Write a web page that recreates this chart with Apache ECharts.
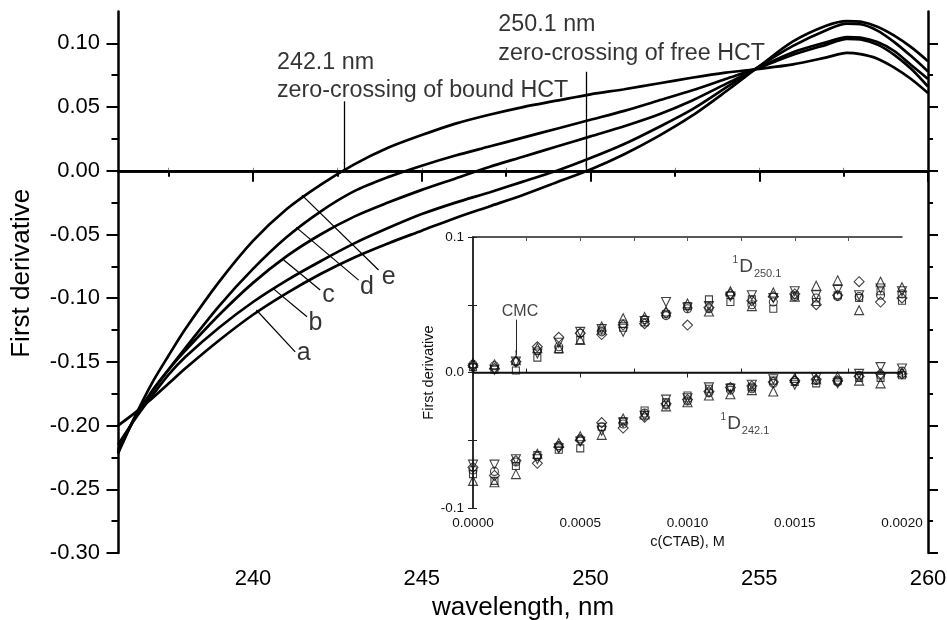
<!DOCTYPE html>
<html>
<head>
<meta charset="utf-8">
<script src="https://cdn.jsdelivr.net/npm/echarts@6/dist/echarts.min.js"></script>
<style>html,body{margin:0;padding:0;background:#fff}#c{width:947px;height:620px}</style>
</head>
<body>
<div id="c"></div>
<script>
// ---------- main chart data ----------
const wavelength = [236,236.5,237,237.5,238,239,240,241,242,243,244,245,246,247,248,249,250,251,252,253,254,255,256,257,257.6,258,258.5,259,259.5,260];
const curveA = [-0.200,-0.190,-0.179,-0.167,-0.155,-0.133,-0.113,-0.096,-0.081,-0.068,-0.057,-0.047,-0.037,-0.028,-0.019,-0.009,0.001,0.013,0.027,0.043,0.062,0.082,0.1015,0.114,0.1175,0.117,0.113,0.106,0.097,0.086];
const curveB = [-0.215,-0.195,-0.177,-0.160,-0.146,-0.123,-0.103,-0.086,-0.071,-0.057,-0.045,-0.034,-0.025,-0.017,-0.0085,0.000,0.010,0.021,0.034,0.048,0.065,0.082,0.098,0.1105,0.1155,0.115,0.110,0.101,0.090,0.078];
const curveC = [-0.219,-0.194,-0.173,-0.156,-0.141,-0.113,-0.088,-0.067,-0.050,-0.036,-0.025,-0.015,-0.006,0.003,0.011,0.019,0.027,0.035,0.044,0.055,0.068,0.081,0.093,0.101,0.105,0.1045,0.101,0.094,0.083,0.072];
const curveD = [-0.221,-0.194,-0.174,-0.156,-0.139,-0.106,-0.077,-0.052,-0.032,-0.016,-0.005,0.004,0.012,0.019,0.026,0.033,0.040,0.047,0.055,0.063,0.072,0.081,0.091,0.099,0.1035,0.103,0.099,0.091,0.080,0.066];
const curveE = [-0.222,-0.193,-0.167,-0.145,-0.124,-0.087,-0.055,-0.030,-0.011,0.005,0.018,0.028,0.037,0.044,0.050,0.055,0.060,0.064,0.0685,0.073,0.077,0.080,0.0835,0.089,0.0925,0.0915,0.088,0.081,0.072,0.061];
const curveNames = ['a','b','c','d','e'];
const mainXTicks = [240,245,250,255,260];
const mainXMinor = [237.5,242.5,247.5,252.5,257.5];
const mainYTicks = [-0.30,-0.25,-0.20,-0.15,-0.10,-0.05,0.00,0.05,0.10];
const mainYMinor = [-0.275,-0.225,-0.175,-0.125,-0.075,-0.025,0.025,0.075];

// ---------- inset data ----------
const conc = [0,0.0001,0.0002,0.0003,0.0004,0.0005,0.0006,0.0007,0.0008,0.0009,0.0010,0.0011,0.0012,0.0013,0.0014,0.0015,0.0016,0.0017,0.0018,0.0019,0.0020];
// 1D250.1
const up_sq = [0.004,0.002,0.0015,0.011,0.017,0.024,0.031,0.033,0.037,0.043,0.049,0.054,0.052,0.054,0.047,0.057,0.052,0.057,0.055,0.060,0.053];
const up_ci = [0.006,0.005,0.008,0.016,0.019,0.029,0.030,0.036,0.039,0.042,0.047,0.047,0.057,0.050,0.052,0.056,0.055,0.056,0.056,0.057,0.058];
const up_tu = [0.007,0.006,0.009,0.018,0.018,0.024,0.034,0.040,0.041,0.045,0.051,0.045,0.060,0.049,0.059,0.056,0.064,0.068,0.046,0.067,0.063];
const up_td = [0.003,0.002,0.008,0.014,0.022,0.030,0.032,0.030,0.038,0.052,0.048,0.049,0.056,0.057,0.055,0.060,0.057,0.061,0.057,0.062,0.060];
const up_di = [0.005,0.003,0.008,0.019,0.026,0.029,0.028,0.035,0.036,0.044,0.035,0.048,0.058,0.053,0.056,0.058,0.050,0.057,0.067,0.052,0.055];
// 1D242.1
const lo_sq = [-0.075,-0.080,-0.069,-0.061,-0.057,-0.056,-0.040,-0.036,-0.028,-0.022,-0.017,-0.012,-0.011,-0.011,-0.006,-0.007,-0.008,-0.006,-0.004,-0.004,-0.002];
const lo_ci = [-0.072,-0.073,-0.066,-0.062,-0.054,-0.049,-0.040,-0.038,-0.030,-0.024,-0.021,-0.015,-0.013,-0.012,-0.008,-0.006,-0.006,-0.007,-0.002,-0.002,0.001];
const lo_tu = [-0.080,-0.081,-0.075,-0.060,-0.052,-0.047,-0.046,-0.034,-0.031,-0.025,-0.022,-0.017,-0.016,-0.013,-0.014,-0.004,-0.005,-0.003,-0.006,-0.008,0.000];
const lo_td = [-0.068,-0.068,-0.064,-0.064,-0.056,-0.051,-0.043,-0.037,-0.032,-0.020,-0.019,-0.011,-0.012,-0.009,-0.005,-0.009,-0.004,-0.008,-0.001,0.004,0.003];
const lo_di = [-0.070,-0.076,-0.065,-0.067,-0.055,-0.050,-0.037,-0.041,-0.033,-0.023,-0.020,-0.014,-0.011,-0.010,-0.007,-0.006,-0.005,-0.006,-0.003,-0.001,-0.001];
const insetXTicks = [0,0.0005,0.0010,0.0015,0.0020];
const insetXMinor = [0.00025,0.00075,0.00125,0.00175];
const insetYTicks = [-0.1,0,0.1];
const insetYMinor = [-0.05,0.05];

// ---------- annotations (data coordinates) ----------
const letterPos = [[241.5,-0.1433],[241.85,-0.1198],[242.24,-0.0976],[243.38,-0.0911],[244.02,-0.0832]];
const leaderLines = [[[240.10,-0.1093],[241.25,-0.1421]],[[240.59,-0.0923],[241.60,-0.1146]],[[240.91,-0.0701],[241.99,-0.0936]],[[241.28,-0.0444],[243.13,-0.0858]],[[241.45,-0.0191],[243.72,-0.0779]]];
const arrowLines = [[[242.71,0.0545],[242.71,0.0]],[[249.87,0.0777],[249.87,0.0]]];
const noteTexts = [{x:240.71,y:0.0741,t:'242.1 nm\nzero-crossing of bound HCT'},{x:247.27,y:0.1032,t:'250.1 nm\nzero-crossing of free HCT'}];

const FONT = 'Liberation Sans, Arial, Helvetica, sans-serif';
const BLK = '#000';

function zip(xs, ys){ return xs.map((x,i)=>[x, ys[i]]); }

const chart = echarts.init(document.getElementById('c'), null, {renderer:'canvas'});

const mainGrid = {left:118, right:19, top:11.5, bottom:67, outerBoundsMode:'none', containLabel:false};
const insetGrid = {left:473, right:45, top:237, bottom:112, outerBoundsMode:'none', containLabel:false};

function hidden(extra){ return Object.assign({show:true, axisLine:{show:false}, axisLabel:{show:false}, splitLine:{show:false}}, extra); }

const xAxes = [
  {gridIndex:0, type:'value', min:236, max:260, position:'bottom',
   axisLine:{show:true, lineStyle:{color:BLK, width:2.5}},
   axisTick:{show:true, customValues:mainXTicks, length:11, inside:false, lineStyle:{color:BLK, width:2}},
   axisLabel:{show:true, customValues:mainXTicks, margin:15, color:BLK, fontSize:22, fontFamily:FONT},
   splitLine:{show:false},
   name:'wavelength, nm', nameLocation:'middle', nameGap:42, nameTextStyle:{color:BLK, fontSize:26, fontFamily:FONT}},
  hidden({gridIndex:0, type:'value', min:236, max:260, position:'bottom', axisTick:{show:true, customValues:mainXMinor, length:6, lineStyle:{color:BLK, width:2}}}),
  {gridIndex:0, type:'value', min:236, max:260, position:'top',
   axisLine:{show:true, lineStyle:{color:BLK, width:2.5}},
   axisTick:{show:true, customValues:mainXMinor.concat(mainXTicks.slice(0,4)), length:3, lineStyle:{color:'#888', width:1}},
   axisLabel:{show:false}, splitLine:{show:false}},
  {gridIndex:1, type:'value', min:0, max:0.002, position:'bottom',
   axisLine:{show:true, lineStyle:{color:'#222', width:1.5}},
   axisTick:{show:true, customValues:insetXTicks, length:5, inside:false, lineStyle:{color:'#222', width:1}},
   axisLabel:{show:true, customValues:insetXTicks, margin:8, color:'#111', fontSize:13.5, fontFamily:FONT, formatter:v=>v.toFixed(4)},
   splitLine:{show:false},
   name:'c(CTAB), M', nameLocation:'middle', nameGap:26, nameTextStyle:{color:'#111', fontSize:14.5, fontFamily:FONT}},
  hidden({gridIndex:1, type:'value', min:0, max:0.002, position:'bottom', axisTick:{show:true, customValues:insetXMinor, length:4, inside:true, lineStyle:{color:'#222', width:1}}}),
  {gridIndex:1, type:'value', min:0, max:0.002, position:'top',
   axisLine:{show:true, lineStyle:{color:'#222', width:1.5}},
   axisTick:{show:true, customValues:insetXMinor.concat([0.0005,0.001,0.0015]), length:4, inside:true, lineStyle:{color:'#555', width:1}},
   axisLabel:{show:false}, splitLine:{show:false}}
];

const yAxes = [
  {gridIndex:0, type:'value', min:-0.30, max:0.125, position:'left',
   axisLine:{show:true, lineStyle:{color:BLK, width:2.5}},
   axisTick:{show:true, customValues:mainYTicks, length:11.5, lineStyle:{color:BLK, width:2}},
   axisLabel:{show:true, customValues:mainYTicks, margin:18, color:BLK, fontSize:22, fontFamily:FONT, formatter:v=>v.toFixed(2)},
   splitLine:{show:false},
   name:'First derivative', nameLocation:'middle', nameGap:83, nameRotate:90, nameTextStyle:{color:BLK, fontSize:26, fontFamily:FONT, padding:[0,0,0,18]}},
  hidden({gridIndex:0, type:'value', min:-0.30, max:0.125, position:'left', axisTick:{show:true, customValues:mainYMinor, length:6.5, lineStyle:{color:BLK, width:2}}}),
  {gridIndex:0, type:'value', min:-0.30, max:0.125, position:'right',
   axisLine:{show:true, lineStyle:{color:BLK, width:2.5}},
   axisTick:{show:true, customValues:mainYTicks, length:10, lineStyle:{color:BLK, width:2}},
   axisLabel:{show:false}, splitLine:{show:false}},
  hidden({gridIndex:0, type:'value', min:-0.30, max:0.125, position:'right', axisTick:{show:true, customValues:mainYMinor, length:5, lineStyle:{color:BLK, width:2}}}),
  {gridIndex:1, type:'value', min:-0.1, max:0.1, position:'left',
   axisLine:{show:true, lineStyle:{color:'#222', width:1.5}},
   axisTick:{show:true, customValues:insetYTicks.concat(insetYMinor), length:5, lineStyle:{color:'#222', width:1}},
   axisLabel:{show:true, customValues:insetYTicks, margin:9, color:'#111', fontSize:13.5, fontFamily:FONT, formatter:v=>v.toFixed(1)},
   splitLine:{show:false},
   name:'First derivative', nameLocation:'middle', nameGap:33, nameRotate:90, nameTextStyle:{color:'#111', fontSize:14.5, fontFamily:FONT}},
  {gridIndex:1, type:'value', min:-0.1, max:0.1, position:'right',
   axisLine:{show:true, lineStyle:{color:'#222', width:1.5}},
   axisTick:{show:true, customValues:insetYTicks.concat(insetYMinor), length:4, lineStyle:{color:'#222', width:1}},
   axisLabel:{show:false}, splitLine:{show:false}}
];

const mainCurves = [curveA, curveB, curveC, curveD, curveE];
const series = [];

mainCurves.forEach((ys, i) => {
  series.push({
    type:'line', name:curveNames[i], xAxisIndex:0, yAxisIndex:0,
    data: zip(wavelength, ys), smooth:0.3, showSymbol:false, symbol:'none',
    lineStyle:{color:BLK, width:2.7}, z:3, animation:false
  });
});

series.push({
  type:'line', xAxisIndex:0, yAxisIndex:0, data:[], silent:true, animation:false,
  markLine:{
    silent:true, animation:false, symbol:['none','none'], label:{show:false},
    data: [
      [{coord:[236,0], lineStyle:{color:BLK, width:1.6, type:'solid'}}, {coord:[260,0]}]
    ].concat(leaderLines.map(l => [{coord:l[0], lineStyle:{color:BLK, width:1.2, type:'solid'}}, {coord:l[1]}]))
  }
});
series.push({
  type:'line', xAxisIndex:0, yAxisIndex:0, data:[], silent:true, animation:false,
  markLine:{
    silent:true, animation:false, symbol:['none','arrow'], symbolSize:[1,9], label:{show:false},
    lineStyle:{color:BLK, width:1.3, type:'solid'},
    data: arrowLines.map(l => [{coord:l[0]}, {coord:l[1]}])
  }
});
series.push({
  type:'scatter', xAxisIndex:0, yAxisIndex:0, symbolSize:0, silent:true, animation:false,
  data: letterPos.map((p,i)=>({value:p, name:curveNames[i]})),
  label:{show:true, position:'inside', formatter:p=>p.name, color:BLK, fontSize:25, fontFamily:FONT}
});
series.push({
  type:'scatter', xAxisIndex:0, yAxisIndex:0, symbolSize:0, silent:true, animation:false,
  data: noteTexts.map(n=>({value:[n.x,n.y], name:n.t})),
  label:{show:true, position:'right', distance:0, align:'left', formatter:p=>p.name, color:BLK, fontSize:23.3, lineHeight:28.5, fontFamily:FONT}
});

const symSpec = [
  {sym:'rect', rot:0, size:7},
  {sym:'circle', rot:0, size:8},
  {sym:'triangle', rot:0, size:9},
  {sym:'triangle', rot:180, size:9},
  {sym:'diamond', rot:0, size:10}
];
[[up_sq,up_ci,up_tu,up_td,up_di],[lo_sq,lo_ci,lo_tu,lo_td,lo_di]].forEach(group => {
  group.forEach((ys, i) => {
    series.push({
      type:'scatter', xAxisIndex:3, yAxisIndex:4, data: zip(conc, ys),
      symbol: symSpec[i].sym, symbolRotate: symSpec[i].rot, symbolSize: symSpec[i].size,
      itemStyle:{color:'rgba(255,255,255,0)', borderColor:'#111', borderWidth:1.1},
      animation:false, silent:true, clip:false
    });
  });
});
series.push({
  type:'line', xAxisIndex:3, yAxisIndex:4, data:[], silent:true, animation:false,
  markLine:{
    silent:true, animation:false, symbol:['none','none'], label:{show:false},
    data:[[{coord:[0,0], lineStyle:{color:'#111', width:1.3, type:'solid'}}, {coord:[0.002,0]}]]
  }
});
series.push({
  type:'line', xAxisIndex:3, yAxisIndex:4, data:[], silent:true, animation:false,
  markLine:{
    silent:true, animation:false, symbol:['none','arrow'], symbolSize:[1,6], label:{show:false},
    lineStyle:{color:'#222', width:1, type:'solid'},
    data:[[{coord:[0.0002,0.039]}, {coord:[0.0002,0.0125]}]]
  }
});
series.push({
  type:'scatter', xAxisIndex:3, yAxisIndex:4, symbolSize:0, silent:true, animation:false, clip:false,
  data:[
    {value:[0.000219,0.045], name:'cmc'},
    {value:[0.001324,0.078], name:'d250'},
    {value:[0.001268,-0.038], name:'d242'}
  ],
  label:{show:true, position:'inside', color:'#111', fontFamily:FONT,
    formatter:p=> p.name==='cmc' ? '{c|CMC}' : (p.name==='d250' ? '{s|1}{d|D}{b|250.1}' : '{s|1}{d|D}{b|242.1}'),
    rich:{
      c:{fontSize:16, fontFamily:FONT, color:'#111'},
      s:{fontSize:10, fontFamily:FONT, color:'#111', padding:[0,1,14,0]},
      d:{fontSize:19, fontFamily:FONT, color:'#111'},
      b:{fontSize:11, fontFamily:FONT, color:'#111', padding:[14,0,0,1]}
    }
  }
});

chart.setOption({
  animation:false,
  backgroundColor:'#fff',
  grid:[mainGrid, insetGrid],
  xAxis:xAxes,
  yAxis:yAxes,
  series:series
});
</script>
</body>
</html>
